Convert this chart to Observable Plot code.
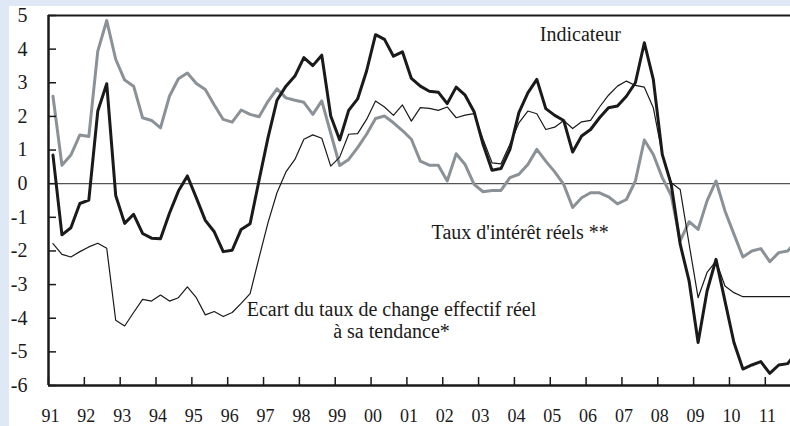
<!DOCTYPE html>
<html><head><meta charset="utf-8">
<script src="https://cdn.jsdelivr.net/npm/d3@7"></script>
<script src="https://cdn.jsdelivr.net/npm/@observablehq/plot@0.6"></script>
<style>
html,body{margin:0;padding:0;background:#dfe9f6;width:790px;height:426px;overflow:hidden;}
#wrap{position:absolute;left:9px;top:6px;width:781px;height:420px;background:#fff;}
#wrap svg{display:block;font-family:"Liberation Serif","Times New Roman",serif !important;}
#wrap svg text{font-family:"Liberation Serif","Times New Roman",serif !important;}
</style></head><body><div id="wrap"></div>
<script>
// Quarterly data, 1991T1 .. 2011T4
const indicateur = [0.85,-1.52,-1.31,-0.59,-0.49,2.16,2.97,-0.35,-1.18,-0.91,-1.48,-1.62,-1.64,-0.88,-0.22,0.23,-0.42,-1.09,-1.43,-2.02,-1.98,-1.36,-1.19,0.1,1.37,2.48,2.9,3.2,3.75,3.51,3.82,2.01,1.3,2.18,2.52,3.35,4.43,4.29,3.79,3.92,3.13,2.9,2.75,2.72,2.38,2.87,2.63,2.14,1.17,0.4,0.45,1.02,2.11,2.7,3.1,2.23,2.03,1.88,0.94,1.42,1.61,1.96,2.26,2.31,2.6,3.0,4.19,3.1,0.87,-0.02,-1.8,-2.9,-4.72,-3.19,-2.25,-3.49,-4.72,-5.51,-5.39,-5.29,-5.64,-5.39,-5.35,-5.0];
const ecartChange = [-1.78,-2.1,-2.18,-2.02,-1.88,-1.77,-1.92,-4.06,-4.23,-3.83,-3.44,-3.49,-3.31,-3.49,-3.39,-3.07,-3.39,-3.9,-3.8,-3.95,-3.83,-3.56,-3.27,-2.2,-1.16,-0.27,0.35,0.72,1.32,1.45,1.35,0.52,0.79,1.47,1.49,1.91,2.46,2.28,2.03,2.34,1.86,2.26,2.24,2.18,2.28,1.96,2.04,2.08,1.32,0.62,0.59,1.17,1.81,2.16,2.08,1.61,1.68,1.88,1.64,1.84,1.88,2.28,2.63,2.9,3.05,2.92,2.87,2.26,0.87,0.03,-0.17,-1.8,-3.39,-2.64,-2.3,-3.04,-3.24,-3.36,-3.36,-3.36,-3.36,-3.36,-3.36,-3.36];
const tauxReels = [2.6,0.55,0.85,1.45,1.4,3.94,4.85,3.7,3.08,2.9,1.96,1.88,1.66,2.6,3.12,3.29,2.98,2.8,2.34,1.91,1.83,2.19,2.06,1.99,2.45,2.82,2.55,2.48,2.42,2.06,2.46,1.5,0.54,0.72,1.07,1.47,1.94,2.01,1.81,1.58,1.32,0.67,0.55,0.55,0.08,0.89,0.57,-0.02,-0.24,-0.2,-0.2,0.18,0.28,0.57,1.02,0.67,0.35,-0.02,-0.71,-0.42,-0.27,-0.27,-0.39,-0.6,-0.47,0.08,1.3,0.87,0.18,-0.35,-1.7,-1.13,-1.36,-0.51,0.08,-0.81,-1.5,-2.18,-2.0,-1.93,-2.32,-2.05,-2.0,-1.7];
const yTicks = [5,4,3,2,1,0,-1,-2,-3,-4,-5,-6];
const xYears = d3.range(1991, 2012);
const xTickLabels = xYears.map(y => String(y % 100).padStart(2, "0"));
const labelIndicateur = "Indicateur";
const labelTaux = "Taux d'intérêt réels **";
const labelEcart = "Ecart du taux de change effectif réel\nà sa tendance*";

const data = indicateur.map((v, i) => ({
  t: 1991 + Math.floor(i / 4) + (i % 4) / 4 + 0.125,
  ind: v, ecart: ecartChange[i], taux: tauxReels[i]
}));

const x0 = 1991, x1 = 1991 + 742 / 35.84;
const ink = "#1a1a1a";
const chart = Plot.plot({
  width: 781, height: 420,
  marginLeft: 39, marginRight: 0, marginTop: 9, marginBottom: 41,
  style: {fontFamily: "Liberation Serif, serif", fontSize: "20px", color: ink, background: "transparent", overflow: "visible"},
  x: {domain: [x0, x1], label: null},
  y: {domain: [-6, 5], label: null},
  marks: [
    Plot.ruleY([0], {stroke: "#555", strokeWidth: 1.2}),
    Plot.line(data, {x: "t", y: "taux", stroke: "#8b9297", strokeWidth: 3, clip: true}),
    Plot.line(data, {x: "t", y: "ind", stroke: ink, strokeWidth: 3, clip: true}),
    Plot.line(data, {x: "t", y: "ecart", stroke: ink, strokeWidth: 1.2, clip: true}),
    Plot.axisY(yTicks, {tickSize: -8, tickFormat: () => "", strokeWidth: 1.5, stroke: ink}),
    Plot.axisY(yTicks, {tickSize: 0, tickPadding: 21, tickFormat: d => String(d), fill: ink}),
    Plot.axisX(xYears, {tickSize: -8, tickFormat: () => "", strokeWidth: 1.5, stroke: ink}),
    Plot.axisX(xYears, {tickSize: 0, tickPadding: 24, dx: 2, fontSize: 18, tickFormat: (d, i) => xTickLabels[i], fill: ink}),
    Plot.ruleX([x0], {stroke: ink, strokeWidth: 2.5}),
    Plot.ruleY([-6], {stroke: ink, strokeWidth: 2.5}),
    Plot.ruleY([5], {stroke: ink, strokeWidth: 2}),
    Plot.text([labelIndicateur], {x: 2005.84, y: 4.44, text: d => d, fill: ink}),
    Plot.text([labelTaux], {x: 2004.16, y: -1.44, text: d => d, fill: ink}),
    Plot.text([labelEcart], {x: 2000.57, y: -4.05, text: d => d, fill: ink, lineHeight: 1.1})
  ]
});
document.getElementById("wrap").appendChild(chart);
</script></body></html>
